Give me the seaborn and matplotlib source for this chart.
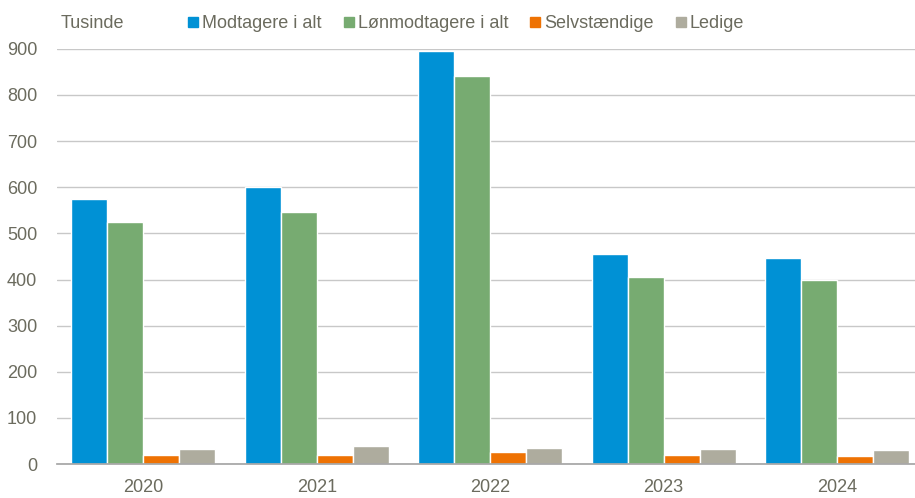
import matplotlib
matplotlib.use("Agg")
import matplotlib.pyplot as plt
import seaborn as sns
import pandas as pd
from matplotlib.lines import Line2D

years = ["2020", "2021", "2022", "2023", "2024"]
series = ["Modtagere i alt", "Lønmodtagere i alt", "Selvstændige", "Ledige"]
modtagere = [575, 601, 896, 455, 447]
loenmodtagere = [525, 547, 842, 406, 399]
selvstaendige = [20, 20, 26, 20, 18]
ledige = [33, 39, 35, 33, 31]
colors = ["#0091D5", "#77AB71", "#EE7203", "#AEAC9E"]

rows = []
for name, vals in zip(series, [modtagere, loenmodtagere, selvstaendige, ledige]):
    for y, v in zip(years, vals):
        rows.append({"year": y, "series": name, "value": v})
df = pd.DataFrame(rows)

sns.set_theme(style="white")
plt.rcParams["font.family"] = ["Liberation Sans Narrow", "Liberation Sans", "DejaVu Sans"]
txt = "#6B6B5E"

fig = plt.figure(figsize=(9.15, 4.98), dpi=100)
ax = fig.add_axes([0.062, 0.068, 0.938, 0.834])
sns.barplot(data=df, x="year", y="value", hue="series", hue_order=series,
            palette=colors, width=0.83, edgecolor="white", linewidth=1,
            saturation=1, ax=ax, legend=False)
ax.set_ylim(0, 900)
ax.set_xlim(-0.5, 4.45)
ax.set_yticks(range(0, 901, 100))
ax.yaxis.grid(True, color="#C8C8C8", linewidth=1)
ax.set_axisbelow(True)
for s in ["top", "right", "left"]:
    ax.spines[s].set_visible(False)
ax.spines["bottom"].set_color("#A6A6A6")
ax.set_xlabel("")
ax.set_ylabel("")
ax.tick_params(axis="both", length=0, labelsize=13, colors=txt)
ax.tick_params(axis="x", pad=11)
ax.tick_params(axis="y", pad=14)

fig.text(0.066, 0.953, "Tusinde", fontsize=13, color=txt, va="center")
handles = [Line2D([], [], marker="s", linestyle="", markersize=7,
                  markerfacecolor=c, markeredgecolor=c) for c in colors]
fig.legend(handles, series, loc="center left", bbox_to_anchor=(0.197, 0.953),
           ncol=4, frameon=False, fontsize=13, labelcolor=txt,
           handlelength=0.6, handletextpad=0.2, columnspacing=1.2, borderaxespad=0)

fig.savefig("out.png", dpi=100)
